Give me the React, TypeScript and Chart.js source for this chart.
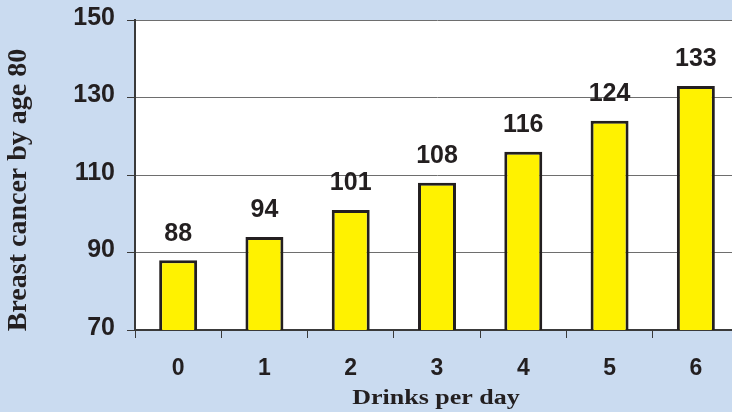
import React, { useEffect, useRef } from "react";
import { Chart, registerables } from "chart.js";

Chart.register(...registerables);

const categories = ["0", "1", "2", "3", "4", "5", "6"];
const cancerCases = [88, 94, 101, 108, 116, 124, 133];
const yTickValues = [70, 90, 110, 130, 150];
const xTitle = "Drinks per day";
const yTitle = "Breast cancer by age 80";

const BG = "#CADBF0";
const INK = "#231F20";

const backgroundPlugin = {
  id: "bgFill",
  beforeDraw(chart: any) {
    const { ctx, width, height, chartArea: a } = chart;
    ctx.save();
    ctx.fillStyle = BG;
    ctx.fillRect(0, 0, width, height);
    ctx.fillStyle = "#FFFFFF";
    ctx.fillRect(a.left, a.top, a.right - a.left, a.bottom - a.top);
    ctx.restore();
  },
};

const valueLabelPlugin = {
  id: "valueLabels",
  afterDatasetsDraw(chart: any) {
    const { ctx } = chart;
    const meta = chart.getDatasetMeta(0);
    ctx.save();
    ctx.font = "bold 25px 'Liberation Sans', Arial, sans-serif";
    ctx.fillStyle = INK;
    ctx.textAlign = "center";
    ctx.textBaseline = "middle";
    meta.data.forEach((bar: any, i: number) => {
      ctx.fillText(String(cancerCases[i]), bar.x, bar.y - 26.5);
    });
    ctx.restore();
  },
};

const axisTitlePlugin = {
  id: "axisTitles",
  afterDraw(chart: any) {
    const { ctx } = chart;
    ctx.save();
    ctx.fillStyle = INK;
    ctx.textAlign = "center";
    ctx.textBaseline = "middle";
    // y title
    ctx.save();
    ctx.font = "bold 28px 'Liberation Serif', 'Times New Roman', serif";
    ctx.translate(18.5, 190);
    ctx.rotate(-Math.PI / 2);
    ctx.fillText(yTitle, 0, 0);
    ctx.restore();
    // x title
    ctx.save();
    ctx.font = "bold 20px 'Liberation Serif', 'Times New Roman', serif";
    ctx.translate(436, 398.5);
    ctx.scale(1.3, 1);
    ctx.fillText(xTitle, 0, 0);
    ctx.restore();
    ctx.restore();
  },
};

export default function App() {
  const canvasRef = useRef<HTMLCanvasElement | null>(null);

  useEffect(() => {
    if (!canvasRef.current) return;
    const chart = new Chart(canvasRef.current, {
      type: "bar",
      data: {
        labels: categories,
        datasets: [
          {
            data: cancerCases,
            backgroundColor: "#FFF200",
            borderColor: INK,
            borderWidth: 3,
            barPercentage: 0.44,
            categoryPercentage: 1,
          },
        ],
      },
      options: {
        animation: false,
        responsive: false,
        devicePixelRatio: 1,
        layout: { padding: { top: 20, right: 21, left: 0, bottom: 0 } },
        plugins: {
          legend: { display: false },
          tooltip: { enabled: false },
          title: { display: false },
        },
        scales: {
          x: {
            offset: true,
            afterFit: (scale: any) => {
              scale.height = 82;
              scale.paddingLeft = 0;
              scale.paddingRight = 0;
            },
            grid: {
              offset: true,
              drawOnChartArea: false,
              drawTicks: true,
              tickLength: 8,
              color: "#3a3a3a",
              tickColor: "#3a3a3a",
            },
            border: { display: true, color: "#3a3a3a", width: 2 },
            ticks: {
              padding: 17,
              color: INK,
              font: { family: "'Liberation Sans', Arial, sans-serif", size: 23, weight: "bold" },
            },
          },
          y: {
            min: yTickValues[0],
            max: yTickValues[yTickValues.length - 1],
            afterFit: (scale: any) => {
              scale.width = 135;
              scale.paddingTop = 0;
              scale.paddingBottom = 0;
            },
            afterBuildTicks: (scale: any) => {
              scale.ticks = yTickValues.map((v) => ({ value: v }));
            },
            grid: {
              color: "#6e6e6e",
              lineWidth: 1,
              drawTicks: true,
              tickLength: 8,
              tickColor: "#3a3a3a",
            },
            border: { display: true, color: "#3a3a3a", width: 2 },
            ticks: {
              padding: 12,
              labelOffset: -2,
              color: INK,
              font: { family: "'Liberation Sans', Arial, sans-serif", size: 25, weight: "bold" },
            },
          },
        },
      },
      plugins: [backgroundPlugin, valueLabelPlugin, axisTitlePlugin],
    });
    return () => chart.destroy();
  }, []);

  return (
    <div
      style={{
        position: "absolute",
        left: 0,
        top: 0,
        width: 732,
        height: 412,
        overflow: "hidden",
        background: BG,
      }}
    >
      <canvas ref={canvasRef} width={760} height={412} style={{ width: 760, height: 412, display: "block" }} />
    </div>
  );
}
